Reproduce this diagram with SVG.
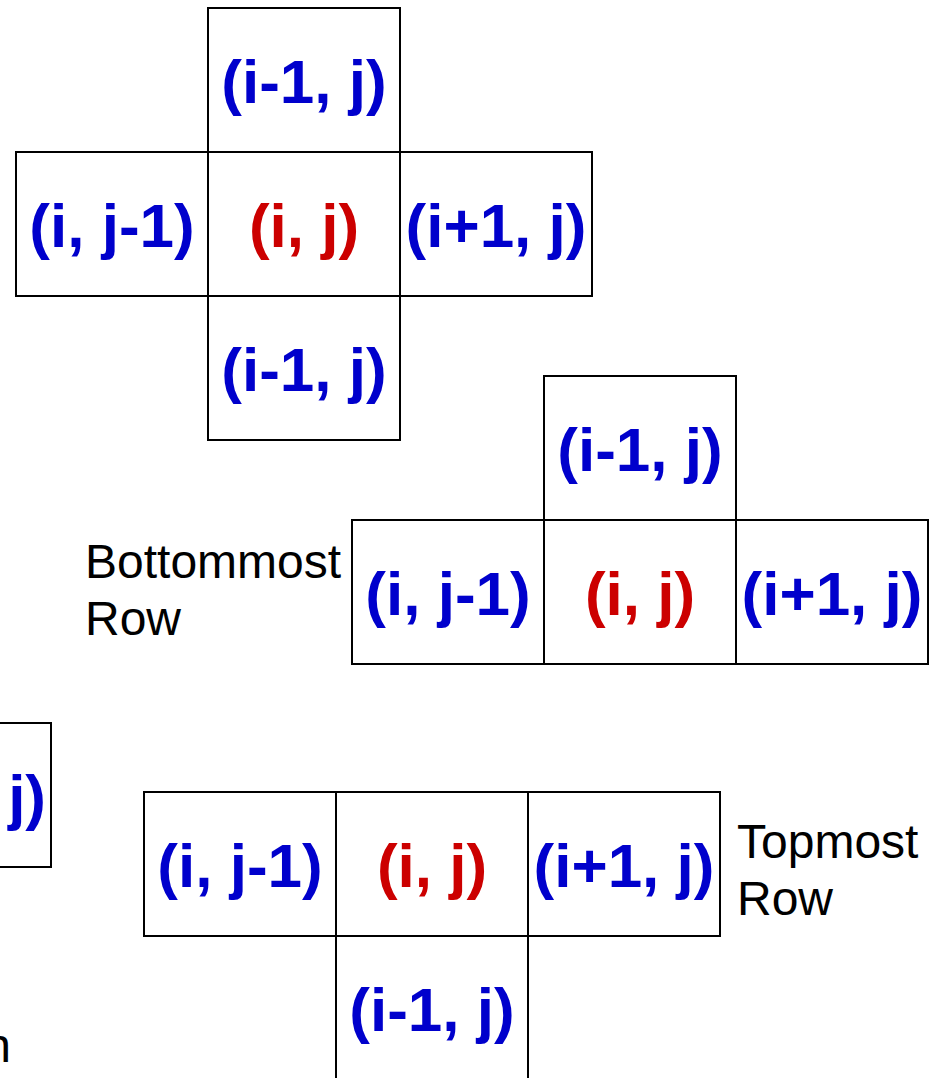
<svg xmlns="http://www.w3.org/2000/svg" width="942" height="1078" viewBox="0 0 942 1078">
<style>
.c{fill:#fff;stroke:#000;stroke-width:2}
.b{font-family:"Liberation Sans",Arial,sans-serif;font-weight:bold;font-size:62px;fill:#0000CC;text-anchor:middle}
.r{fill:#CC0000}
.t{font-family:"Liberation Sans",Arial,sans-serif;font-size:48px;fill:#000}
</style>
<rect width="942" height="1078" fill="#fff"/>
<g id="connectors"/>
<!-- Cross 1 -->
<g id="c1-top"><rect class="c" x="208" y="8" width="192" height="144"/><text class="b" x="304" y="103">(i-1, j)</text></g>
<g id="c1-left"><rect class="c" x="16" y="152" width="192" height="144"/><text class="b" x="112" y="247">(i, j-1)</text></g>
<g id="c1-center"><rect class="c" x="208" y="152" width="192" height="144"/><text class="b r" x="304" y="247">(i, j)</text></g>
<g id="c1-right"><rect class="c" x="400" y="152" width="192" height="144"/><text class="b" x="496" y="247">(i+1, j)</text></g>
<g id="c1-bottom"><rect class="c" x="208" y="296" width="192" height="144"/><text class="b" x="304" y="391">(i-1, j)</text></g>
<!-- Cross 2 -->
<g id="c2-top"><rect class="c" x="544" y="376" width="192" height="144"/><text class="b" x="640" y="471">(i-1, j)</text></g>
<g id="c2-left"><rect class="c" x="352" y="520" width="192" height="144"/><text class="b" x="448" y="615">(i, j-1)</text></g>
<g id="c2-center"><rect class="c" x="544" y="520" width="192" height="144"/><text class="b r" x="640" y="615">(i, j)</text></g>
<g id="c2-right"><rect class="c" x="736" y="520" width="192" height="144"/><text class="b" x="832" y="615">(i+1, j)</text></g>
<g id="label-bottommost"><text class="t" x="85" y="578">Bottommost</text><text class="t" x="85" y="635">Row</text></g>
<!-- Partial left -->
<g id="partial-left"><rect class="c" x="-141" y="723" width="192" height="144"/><text class="b" x="46" y="818" style="text-anchor:end">j)</text></g>
<g id="label-partial"><text class="t" x="11" y="1062" style="text-anchor:end">n</text></g>
<!-- Cross 3 -->
<g id="c3-left"><rect class="c" x="144" y="792" width="192" height="144"/><text class="b" x="240" y="887">(i, j-1)</text></g>
<g id="c3-center"><rect class="c" x="336" y="792" width="192" height="144"/><text class="b r" x="432" y="887">(i, j)</text></g>
<g id="c3-right"><rect class="c" x="528" y="792" width="192" height="144"/><text class="b" x="624" y="887">(i+1, j)</text></g>
<g id="c3-bottom"><rect class="c" x="336" y="936" width="192" height="160"/><text class="b" x="432" y="1031">(i-1, j)</text></g>
<g id="label-topmost"><text class="t" x="737" y="858">Topmost</text><text class="t" x="737" y="915">Row</text></g>
</svg>
